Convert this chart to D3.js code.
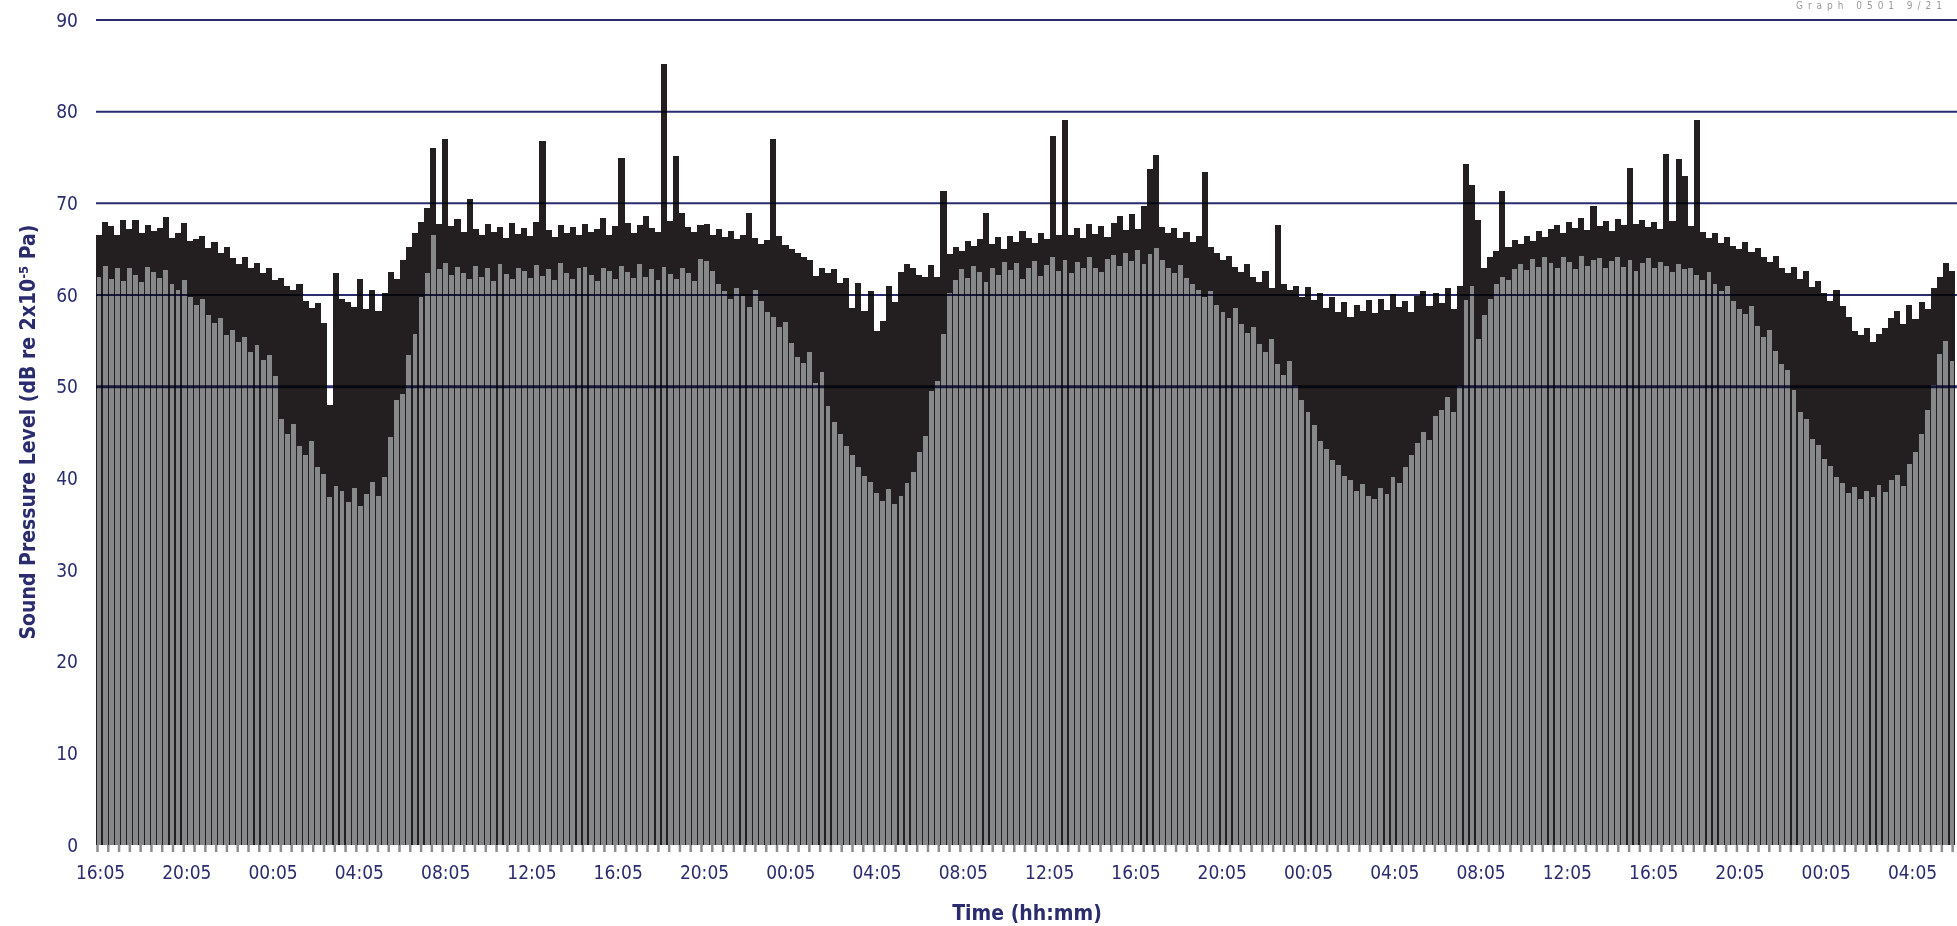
<!DOCTYPE html>
<html>
<head>
<meta charset="utf-8">
<script src="https://cdn.jsdelivr.net/npm/d3@7"></script>
<style>
  body { margin: 0; background: #fff; }
  svg text { font-family: "DejaVu Sans Condensed", "DejaVu Sans", sans-serif; font-stretch: condensed; }
</style>
</head>
<body>
<div id="viz"></div>
<script>
// upper level per interval (black) and background level (grey), dB
var blackLevels = [
  66.5, 68.0, 67.5, 66.5, 68.2, 67.2, 68.2, 66.8, 67.6, 67.0,
  67.3, 68.5, 66.2, 66.8, 67.9, 65.9, 66.1, 66.4, 65.1, 65.8,
  64.6, 65.2, 64.0, 63.4, 64.1, 62.9, 63.5, 62.4, 63.0, 61.6,
  61.9, 61.0, 60.6, 61.2, 59.4, 58.6, 59.1, 57.0, 48.0, 62.4,
  59.6, 59.2, 58.7, 61.8, 58.5, 60.6, 58.3, 60.2, 62.5, 61.8,
  63.8, 65.2, 66.8, 68.0, 69.5, 76.0, 67.8, 77.0, 67.5, 68.3,
  66.9, 70.5, 67.2, 66.5, 67.8, 66.9, 67.4, 66.2, 67.9, 66.7,
  67.3, 66.4, 68.0, 76.8, 67.1, 66.3, 67.6, 66.8, 67.4, 66.5,
  67.8, 66.9, 67.2, 68.4, 66.6, 67.5, 75.0, 67.9, 66.8, 67.6,
  68.6, 67.3, 66.9, 85.2, 68.1, 75.2, 68.9, 67.4, 66.9, 67.6,
  67.8, 66.5, 67.2, 66.3, 67.0, 66.1, 66.6, 69.0, 66.2, 65.6,
  66.0, 77.0, 66.4, 65.5, 65.0, 64.6, 64.1, 63.8, 62.1, 63.0,
  62.4, 62.8, 61.3, 61.9, 58.6, 61.3, 58.3, 60.4, 56.1, 57.2,
  61.0, 59.2, 62.5, 63.4, 63.0, 62.2, 62.0, 63.3, 62.0, 71.4,
  64.5, 65.2, 64.8, 65.9, 65.4, 66.1, 69.0, 65.6, 66.3, 65.0,
  66.4, 65.8, 67.0, 66.2, 65.7, 66.8, 66.1, 77.3, 66.5, 79.1,
  66.5, 67.3, 66.2, 67.8, 66.7, 67.5, 66.3, 67.9, 68.6, 67.1,
  68.8, 67.2, 69.7, 73.7, 75.3, 67.4, 66.8, 67.3, 66.2, 66.9,
  65.8, 66.4, 73.4, 65.2, 64.6, 63.8, 64.3, 63.1, 62.5, 63.4,
  62.0, 61.4, 62.6, 60.8, 67.6, 61.2, 60.5, 61.0, 59.8, 60.9,
  59.5, 60.2, 58.6, 59.8, 58.1, 59.2, 57.6, 58.9, 58.3, 59.5,
  58.0, 59.6, 58.4, 60.1, 58.7, 59.3, 58.1, 59.9, 60.4, 58.8,
  60.2, 59.1, 60.8, 58.5, 61.0, 74.3, 72.0, 68.2, 63.0, 64.1,
  64.8, 71.4, 65.2, 66.0, 65.6, 66.4, 65.9, 67.0, 66.3, 67.2,
  67.6, 66.8, 68.0, 67.3, 68.4, 67.1, 69.7, 67.5, 68.1, 67.0,
  68.3, 67.6, 73.9, 67.8, 68.2, 67.4, 68.0, 67.2, 75.4, 68.1,
  74.8, 73.0, 67.5, 79.1, 66.9, 66.2, 66.8, 65.7, 66.3, 65.4,
  65.0, 65.8, 64.7, 65.1, 64.2, 63.6, 64.3, 63.0, 62.4, 63.1,
  61.8, 62.6, 60.9, 61.5, 60.2, 59.4, 60.6, 58.8, 57.6, 56.1,
  55.6, 56.4, 54.9, 55.8, 56.4, 57.5, 58.3, 56.8, 58.9, 57.4,
  59.2, 58.5, 60.8, 62.0, 63.5, 62.6
];

var greyLevels = [
  62.0, 63.2, 61.8, 62.9, 61.5, 63.0, 62.2, 61.4, 63.1, 62.5,
  61.9, 62.7, 61.2, 60.5, 61.6, 59.8, 58.9, 59.6, 57.8, 56.9,
  57.5, 55.6, 56.2, 54.9, 55.4, 53.8, 54.6, 52.9, 53.5, 51.2,
  46.5, 44.8, 45.9, 43.5, 42.6, 44.1, 41.2, 40.5, 38.0, 39.2,
  38.6, 37.4, 38.9, 37.0, 38.3, 39.6, 38.1, 40.2, 44.5, 48.6,
  49.2, 53.5, 55.7, 59.8, 62.4, 66.5, 62.8, 63.5, 62.2, 63.1,
  62.4, 61.8, 63.2, 62.0, 62.9, 61.5, 63.4, 62.3, 61.7, 63.0,
  62.6, 61.9, 63.3, 62.1, 62.8, 61.6, 63.5, 62.4, 61.8, 62.9,
  63.1, 62.2, 61.5, 63.0, 62.6, 61.7, 63.2, 62.5, 61.9, 63.4,
  62.0, 62.8, 61.6, 63.1, 62.3, 61.8, 63.0, 62.4, 61.5, 63.9,
  63.7, 62.6, 61.2, 60.4, 59.6, 60.8, 59.9, 58.7, 60.5, 59.3,
  58.2, 57.6, 56.5, 57.1, 54.8, 53.2, 52.6, 53.8, 50.4, 51.6,
  47.9, 46.2, 44.8, 43.5, 42.6, 41.2, 40.3, 39.6, 38.4, 37.5,
  38.8, 37.2, 38.1, 39.5, 40.7, 42.9, 44.6, 49.5, 50.6, 55.8,
  60.2, 61.6, 62.8, 61.9, 63.2, 62.5, 61.4, 63.0, 62.2, 63.6,
  62.7, 63.5, 61.8, 62.9, 63.7, 62.1, 63.3, 64.2, 62.6, 63.8,
  62.4, 63.6, 62.9, 64.1, 63.0, 62.5, 63.9, 64.4, 63.2, 64.6,
  63.7, 64.9, 63.4, 64.5, 65.1, 63.8, 63.0, 62.4, 63.3, 61.9,
  61.2, 60.6, 59.8, 60.4, 58.9, 58.1, 57.5, 58.6, 56.8, 55.9,
  56.5, 54.7, 53.8, 55.2, 52.5, 51.3, 52.8, 50.1, 48.6, 47.2,
  45.8, 44.1, 43.2, 42.0, 41.5, 40.3, 39.8, 38.6, 39.4, 38.1,
  37.8, 39.0, 38.3, 40.1, 39.5, 41.2, 42.6, 43.9, 45.1, 44.2,
  46.8, 47.5, 48.9, 47.2, 50.1, 59.5, 61.0, 55.2, 57.8, 59.6,
  61.2, 62.0, 61.6, 62.8, 63.4, 62.7, 63.9, 63.1, 64.2, 63.5,
  63.0, 64.1, 63.6, 62.8, 64.3, 63.2, 63.8, 64.0, 62.9, 63.7,
  64.2, 63.1, 63.8, 62.6, 63.5, 64.0, 62.9, 63.6, 63.2, 62.5,
  63.4, 62.8, 63.0, 62.2, 61.6, 62.5, 61.2, 60.4, 61.0, 59.3,
  58.5, 57.9, 58.8, 56.6, 55.4, 56.2, 53.9, 52.5, 51.8, 49.6,
  47.2, 46.5, 44.3, 43.6, 42.1, 41.4, 40.2, 39.5, 38.4, 39.1,
  37.8, 38.6, 38.0, 39.3, 38.5, 39.8, 40.4, 39.2, 41.6, 42.9,
  44.8, 47.5, 50.2, 53.6, 55.0, 52.8
];

// one label every 4 hours
var timeLabels = ["16:05", "20:05", "00:05", "04:05", "08:05", "12:05",
                  "16:05", "20:05", "00:05", "04:05", "08:05", "12:05",
                  "16:05", "20:05", "00:05", "04:05", "08:05", "12:05",
                  "16:05", "20:05", "00:05", "04:05"];
var yTicks = [0, 10, 20, 30, 40, 50, 60, 70, 80, 90];
var gridLevels = [50, 60, 70, 80, 90];

var w = 1957, h = 926,
    navy = "#2a2c6e",
    bar_black = "#231f20",
    bar_grey = "#87888a",
    tick_grey = "#8c8d8f";

var svg = d3.select("#viz")
    .append("svg")
    .attr("width", w)
    .attr("height", h);

var x = d3.scaleBand().domain(d3.range(blackLevels.length)).range([96, 1955]).padding(0);
var t = d3.scaleLinear().domain([0, 84]).range([97, 1909]);   // hours since first label
var y = d3.scaleLinear().domain([0, 90]).range([845, 20]);

/* bars: black behind, grey slightly narrower in front */
svg.append("g").selectAll("rect").data(blackLevels).enter()
    .append("rect")
    .attr("x", function(d, i) { return x(i); })
    .attr("width", x.bandwidth())
    .attr("y", function(d) { return y(d); })
    .attr("height", function(d) { return y(0) - y(d); })
    .attr("fill", bar_black)
    .attr("shape-rendering", "crispEdges");

svg.append("g").selectAll("rect").data(greyLevels).enter()
    .append("rect")
    .attr("x", function(d, i) { return x(i) + 0.6; })
    .attr("width", x.bandwidth() - 1.2)
    .attr("y", function(d) { return y(d); })
    .attr("height", function(d) { return y(0) - y(d); })
    .attr("fill", bar_grey)
    .attr("shape-rendering", "crispEdges");

/* grid lines sit over the bars, multiplied so they go dark over the bars */
svg.append("g").selectAll("line").data(gridLevels).enter()
    .append("line")
    .attr("x1", 96)
    .attr("x2", w)
    .attr("y1", function(d) { return y(d); })
    .attr("y2", function(d) { return y(d); })
    .attr("stroke", navy)
    .attr("stroke-width", function(d) { return d == 50 ? 3 : 2; })
    .style("mix-blend-mode", "multiply");

/* y axis */
var yAxis = svg.append("g")
    .attr("transform", "translate(80,0)")
    .call(d3.axisLeft(y).tickValues(yTicks).tickSize(0).tickPadding(2));
yAxis.select(".domain").remove();
yAxis.selectAll("text")
    .style("font-size", "19px")
    .attr("fill", navy);

/* x axis: tick every 30 min, label every 4 h */
var xAxis = svg.append("g")
    .attr("transform", "translate(0," + y(0) + ")")
    .call(d3.axisBottom(t)
        .tickValues(d3.range(0, 86.01, 0.5))
        .tickSize(7)
        .tickPadding(14)
        .tickFormat(function(d) { return d % 4 == 0 ? timeLabels[d / 4] : ""; }));
xAxis.select(".domain").remove();
xAxis.selectAll("line")
    .attr("stroke", tick_grey)
    .attr("stroke-width", 2.5);
xAxis.selectAll("text")
    .style("font-size", "19px")
    .attr("dx", 3)
    .attr("fill", navy);

/* titles */
svg.append("text")
    .attr("transform", "translate(35,432) rotate(-90)")
    .style("text-anchor", "middle")
    .style("font-size", "21px")
    .style("font-weight", "bold")
    .attr("fill", navy)
    .text("Sound Pressure Level (dB re 2x10")
    .append("tspan")
      .attr("baseline-shift", "super")
      .style("font-size", "13px")
      .text("-5")
    .select(function() { return this.parentNode; })
    .append("tspan")
      .text(" Pa)");

svg.append("text")
    .attr("x", 1027)
    .attr("y", 920)
    .style("text-anchor", "middle")
    .style("font-size", "21px")
    .style("font-weight", "bold")
    .attr("fill", navy)
    .text("Time (hh:mm)");

/* small reference tag in the top right corner */
svg.append("text")
    .attr("x", 1796)
    .attr("y", 9)
    .attr("textLength", 146)
    .attr("lengthAdjust", "spacing")
    .style("font-size", "10px")
    .attr("fill", "#9a9a9a")
    .text("Graph 0501 9/21");
</script>
</body>
</html>
